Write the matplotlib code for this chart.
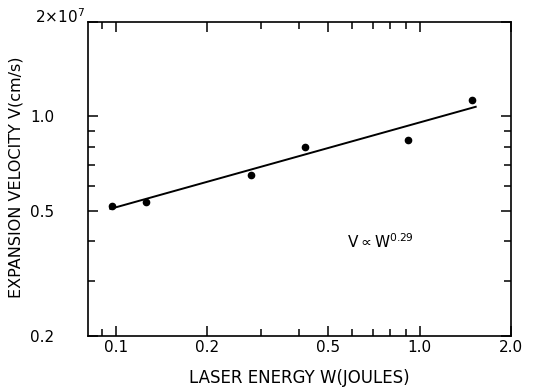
import numpy as np
import matplotlib
matplotlib.use('Agg')
import matplotlib.pyplot as plt
from matplotlib.ticker import FixedLocator, NullFormatter

# measured points
energy = [0.097, 0.126, 0.279, 0.421, 0.918, 1.49]
velocity = [0.517, 0.536, 0.652, 0.798, 0.843, 1.13]

# fitted line, V ~ W^0.29
fit_w = [0.096, 1.53]
fit_v = [0.508, 1.073]

xticks = [0.1, 0.2, 0.5, 1.0, 2.0]
xticklabels = ['0.1', '0.2', '0.5', '1.0', '2.0']
xminor = [0.09, 0.3, 0.4, 0.6, 0.7, 0.8, 0.9]
yticks = [0.2, 0.5, 1.0, 2.0]
yticklabels = ['0.2', '0.5', '1.0', '']
yminor = [0.3, 0.4, 0.6, 0.7, 0.8, 0.9]

plt.rcParams['font.family'] = 'DejaVu Sans'

fig = plt.figure(figsize=(5.46, 3.89), dpi=100)
ax = fig.add_axes([0.161, 0.136, 0.775, 0.808])

ax.plot(fit_w, fit_v, color='black', lw=1.4)
ax.plot(energy, velocity, 'ko', ms=4.5)

ax.set_xscale('log')
ax.set_yscale('log')
ax.set_xlim(0.081, 2.0)
ax.set_ylim(0.2, 2.0)

ax.xaxis.set_major_locator(FixedLocator(xticks))
ax.set_xticklabels(xticklabels)
ax.xaxis.set_minor_locator(FixedLocator(xminor))
ax.xaxis.set_minor_formatter(NullFormatter())
ax.yaxis.set_major_locator(FixedLocator(yticks))
ax.set_yticklabels(yticklabels)
ax.yaxis.set_minor_locator(FixedLocator(yminor))
ax.yaxis.set_minor_formatter(NullFormatter())

ax.tick_params(which='both', direction='in', top=True, right=True, width=1.1, labelsize=11)
ax.tick_params(which='major', length=7)
ax.tick_params(which='minor', length=5)
ax.tick_params(axis='y', pad=24)
ax.tick_params(axis='x', pad=3)
for s in ax.spines.values():
    s.set_linewidth(1.2)

ax.annotate(r'2$\times$10$^7$', xy=(0, 1), xycoords='axes fraction',
            xytext=(-38, 4), textcoords='offset points', fontsize=11,
            ha='left', va='center')

ax.text(0.69, 0.30, r'V$\propto$W$^{0.29}$', transform=ax.transAxes,
        fontsize=11, ha='center', va='center')

ax.set_xlabel('LASER ENERGY W(JOULES)', fontsize=12, labelpad=10)
ax.set_ylabel('EXPANSION VELOCITY V(cm/s)', fontsize=11.5)
ax.yaxis.set_label_coords(-0.152, 0.505)

fig.savefig('out.png', dpi=100)
